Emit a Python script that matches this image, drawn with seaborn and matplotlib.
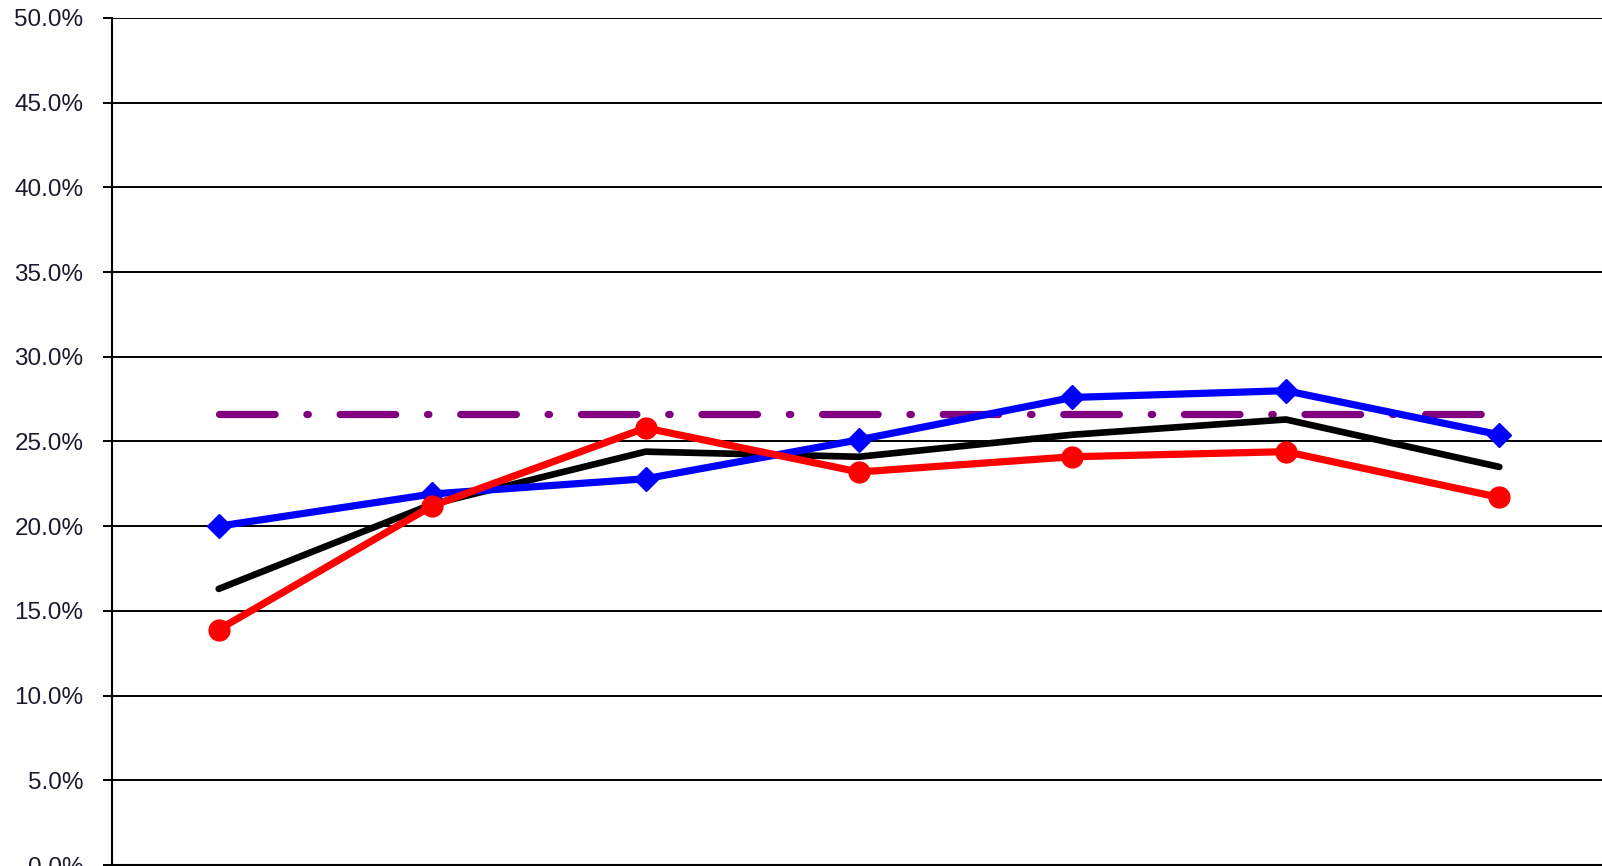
import matplotlib
matplotlib.use("Agg")
import matplotlib.pyplot as plt
from matplotlib.ticker import FuncFormatter, MultipleLocator
import seaborn as sns

# values (percent)
periods = [0, 1, 2, 3, 4, 5, 6]
blue_vals = [20.0, 21.9, 22.8, 25.1, 27.6, 28.0, 25.4]
red_vals = [13.9, 21.2, 25.8, 23.2, 24.1, 24.4, 21.7]
black_vals = [16.3, 21.3, 24.4, 24.1, 25.4, 26.3, 23.5]
target_vals = [26.6, 26.6, 26.6, 26.6, 26.6, 26.6, 26.6]


def main():
    sns.set_style("white")
    plt.rcParams["font.family"] = ["Liberation Sans", "DejaVu Sans"]

    fig = plt.figure(figsize=(16.02, 8.66), dpi=100)
    ax = fig.add_axes([112 / 1602, 1 / 866, 1494 / 1602, 847 / 866])

    # dash-dot target line
    sns.lineplot(x=periods, y=target_vals, ax=ax, color="#800080", lw=5.2,
                 linestyle=(0, (7.7, 4.4, 0.2, 4.4)), dash_capstyle="round")
    sns.lineplot(x=periods, y=black_vals, ax=ax, color="black", lw=4.8,
                 solid_capstyle="round", solid_joinstyle="round")
    sns.lineplot(x=periods, y=blue_vals, ax=ax, color="#0000ff", lw=5.2,
                 marker="D", markersize=12, markeredgecolor="#0000ff",
                 markeredgewidth=1)
    sns.lineplot(x=periods, y=red_vals, ax=ax, color="#ff0000", lw=5.2,
                 marker="o", markersize=15, markeredgecolor="#ff0000",
                 markeredgewidth=1)

    ax.set_xlim(-0.5, 6.5)
    ax.set_ylim(0, 50)
    ax.set_xticks([])
    ax.yaxis.set_major_locator(MultipleLocator(5))
    ax.yaxis.set_major_formatter(FuncFormatter(lambda v, _: f"{v:.1f}%"))
    ax.tick_params(axis="y", direction="out", length=6.5, width=1.4,
                   color="black", pad=14, labelsize=17.5, labelcolor="#1a1a2e",
                   left=True)
    ax.yaxis.grid(True, color="black", lw=1.4)
    ax.set_axisbelow(True)

    for side in ["top", "right"]:
        ax.spines[side].set_visible(False)
    for side in ["left", "bottom"]:
        ax.spines[side].set_color("black")
        ax.spines[side].set_linewidth(1.5)

    ax.set_xlabel("")
    ax.set_ylabel("")

    fig.savefig("out.png", dpi=100)


if __name__ == "__main__":
    main()
